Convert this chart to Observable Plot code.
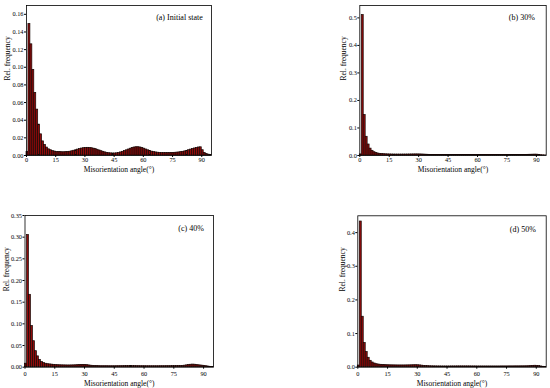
<!DOCTYPE html>
<html>
<head>
<meta charset="utf-8">
<script src="https://cdn.jsdelivr.net/npm/d3@7"></script>
<script src="https://cdn.jsdelivr.net/npm/@observablehq/plot@0.6"></script>
<style>
  html, body { margin: 0; padding: 0; background: #fff; }
  #chart { position: relative; width: 550px; height: 388px; background: #fff; overflow: hidden; }
  #chart svg { position: absolute; }
</style>
</head>
<body>
<div id="chart"></div>
<script>
// Bin start angles (1° wide bins)
const binStarts = d3.range(0, 95);
const xTicks = [0, 15, 30, 45, 60, 75, 90];
const xLabel = "Misorientation angle(°)";
const yLabel = "Rel. frequency";

const titles = ["(a) Initial state", "(b) 30%", "(c) 40%", "(d) 50%"];

const freqInitial = [0.004,0.149,0.126,0.097,0.071,0.052,0.035,0.024,0.016,0.012,
0.009,0.007,0.006,0.005,0.0045,0.004,0.004,0.0038,0.0037,0.0037,
0.0038,0.004,0.0043,0.0048,0.0054,0.006,0.0067,0.0073,0.0079,0.0083,
0.0086,0.0087,0.0086,0.0083,0.0078,0.0072,0.0065,0.0057,0.0049,0.0042,
0.0035,0.003,0.0026,0.0024,0.0023,0.0023,0.0025,0.0029,0.0035,0.0042,
0.005,0.0059,0.0068,0.0077,0.0085,0.0091,0.0094,0.0094,0.0091,0.0085,
0.0077,0.0068,0.0059,0.0051,0.0044,0.0039,0.0035,0.0032,0.003,0.0029,
0.0028,0.0028,0.0028,0.0028,0.0029,0.003,0.0031,0.0033,0.0035,0.0038,
0.0042,0.0047,0.0053,0.006,0.0067,0.0074,0.008,0.0086,0.0091,0.0093,
0.006,0.003,0.0018,0.001,0.0005];

const freq30 = [0.004,0.51,0.147,0.068,0.040,0.025,0.017,0.012,0.009,0.007,
0.006,0.0052,0.0047,0.0043,0.004,0.0038,0.0036,0.0035,0.0034,0.0034,
0.0034,0.0034,0.0035,0.0035,0.0036,0.0037,0.0038,0.0039,0.004,0.004,
0.0039,0.0037,0.0034,0.003,0.0027,0.0024,0.0022,0.002,0.0019,0.0018,
0.0018,0.0018,0.0017,0.0017,0.0017,0.0018,0.0018,0.0019,0.0019,0.002,
0.002,0.0021,0.0021,0.0022,0.0022,0.0022,0.0022,0.0021,0.0021,0.002,
0.002,0.0019,0.0019,0.0018,0.0018,0.0018,0.0018,0.0018,0.0018,0.0018,
0.0018,0.0018,0.0018,0.0018,0.0018,0.0018,0.0018,0.0018,0.0018,0.0019,
0.0019,0.0019,0.002,0.0021,0.0022,0.0024,0.0026,0.0028,0.003,0.0032,
0.003,0.002,0.0012,0.0007,0.0004];

const freq40 = [0.008,0.305,0.167,0.095,0.060,0.037,0.025,0.017,0.012,0.0095,
0.008,0.007,0.0065,0.006,0.0055,0.005,0.0047,0.0045,0.0043,0.0042,
0.0041,0.004,0.004,0.0041,0.0042,0.0044,0.0047,0.005,0.0053,0.0054,
0.0052,0.0047,0.004,0.0034,0.003,0.0027,0.0025,0.0024,0.0023,0.0023,
0.0023,0.0023,0.0022,0.0022,0.0022,0.0022,0.0023,0.0023,0.0024,0.0024,
0.0025,0.0025,0.0025,0.0025,0.0025,0.0025,0.0024,0.0024,0.0023,0.0023,
0.0023,0.0022,0.0022,0.0022,0.0022,0.0022,0.0022,0.0022,0.0023,0.0023,
0.0023,0.0024,0.0024,0.0024,0.0025,0.0025,0.0026,0.0027,0.0028,0.003,
0.0035,0.0042,0.005,0.0056,0.006,0.0058,0.0052,0.0045,0.004,0.0035,
0.003,0.0022,0.0015,0.0008,0.0004];

const freq50 = [0.005,0.433,0.150,0.072,0.045,0.028,0.019,0.014,0.011,0.009,
0.008,0.0072,0.0067,0.0063,0.006,0.0058,0.0056,0.0055,0.0054,0.0053,
0.0052,0.0052,0.0052,0.0052,0.0053,0.0054,0.0055,0.0057,0.0059,0.006,
0.0058,0.0053,0.0046,0.004,0.0035,0.0031,0.0028,0.0026,0.0025,0.0024,
0.0023,0.0023,0.0022,0.0022,0.0022,0.0022,0.0022,0.0023,0.0023,0.0023,
0.0024,0.0024,0.0024,0.0024,0.0024,0.0024,0.0024,0.0023,0.0023,0.0023,
0.0022,0.0022,0.0022,0.0022,0.0022,0.0022,0.0022,0.0022,0.0022,0.0022,
0.0022,0.0022,0.0023,0.0023,0.0023,0.0023,0.0024,0.0024,0.0024,0.0025,
0.0025,0.0025,0.0026,0.0026,0.0027,0.0028,0.003,0.0035,0.004,0.0043,
0.004,0.0032,0.0022,0.0012,0.0005];

const yTicksA = [0, 0.02, 0.04, 0.06, 0.08, 0.10, 0.12, 0.14, 0.16];
const yTicksB = [0, 0.1, 0.2, 0.3, 0.4, 0.5];
const yTicksC = [0, 0.05, 0.10, 0.15, 0.20, 0.25, 0.30, 0.35];
const yTicksD = [0, 0.1, 0.2, 0.3, 0.4];

const yMax = [0.17, 0.545, 0.35, 0.45];
const yFormats = [".2f", ".1f", ".2f", ".1f"];

const panels = [
  {values: freqInitial, yTicks: yTicksA, left: 0, top: 0,
   mL: 26, mR: 64, mT: 5, mB: 39, ylDx: -18.7, xlDy: 14.3, tPad: 0, tDx: -8.7, tDy: 11.7},
  {values: freq30, yTicks: yTicksB, left: 275, top: 0,
   mL: 84.3, mR: 4.3, mT: 5, mB: 39, ylDx: -16, xlDy: 14.3, tPad: 0, tDx: -11.4, tDy: 11.7},
  {values: freq40, yTicks: yTicksC, left: 0, top: 194,
   mL: 24.5, mR: 62, mT: 21, mB: 21.3, ylDx: -18.8, xlDy: 16.6, tPad: 2, tDx: -9.7, tDy: 13},
  {values: freq50, yTicks: yTicksD, left: 275, top: 194,
   mL: 82.3, mR: 4.3, mT: 21.3, mB: 21.3, ylDx: -15, xlDy: 16.6, tPad: 2, tDx: -10.4, tDy: 13.4}
];

const container = document.getElementById("chart");

panels.forEach((p, i) => {
  const rows = binStarts.map((b, k) => ({x1: b, x2: b + 1, y: p.values[k]}));
  const svg = Plot.plot({
    width: 275,
    height: 194,
    marginLeft: p.mL,
    marginRight: p.mR,
    marginTop: p.mT,
    marginBottom: p.mB,
    style: {fontFamily: "'Liberation Serif', 'DejaVu Serif', serif", fontSize: "6.3px", color: "#000", background: "transparent"},
    x: {domain: [0, 95]},
    y: {domain: [0, yMax[i]]},
    marks: [
      Plot.rectY(rows, {x1: "x1", x2: "x2", y: "y", fill: "#8e0b0b", stroke: "#140604", strokeWidth: 0.7, inset: 0}),
      Plot.axisX({ticks: xTicks, tickFormat: d => String(d), tickSize: 2, tickPadding: p.tPad, label: null}),
      Plot.axisY({ticks: p.yTicks, tickFormat: d3.format(yFormats[i]), tickSize: 2, tickPadding: 1, label: null}),
      Plot.frame({stroke: "#000", strokeWidth: 0.8}),
      Plot.text([titles[i]], {text: d => d, frameAnchor: "top-right", textAnchor: "end", lineAnchor: "middle", dx: p.tDx, dy: p.tDy, fontSize: 8}),
      Plot.text([xLabel], {text: d => d, frameAnchor: "bottom", lineAnchor: "middle", dy: p.xlDy, fontSize: 7.5}),
      Plot.text([yLabel], {text: d => d, frameAnchor: "left", lineAnchor: "middle", rotate: -90, dx: p.ylDx, fontSize: 7.5})
    ]
  });
  svg.style.left = p.left + "px";
  svg.style.top = p.top + "px";
  container.appendChild(svg);
});
</script>
</body>
</html>
